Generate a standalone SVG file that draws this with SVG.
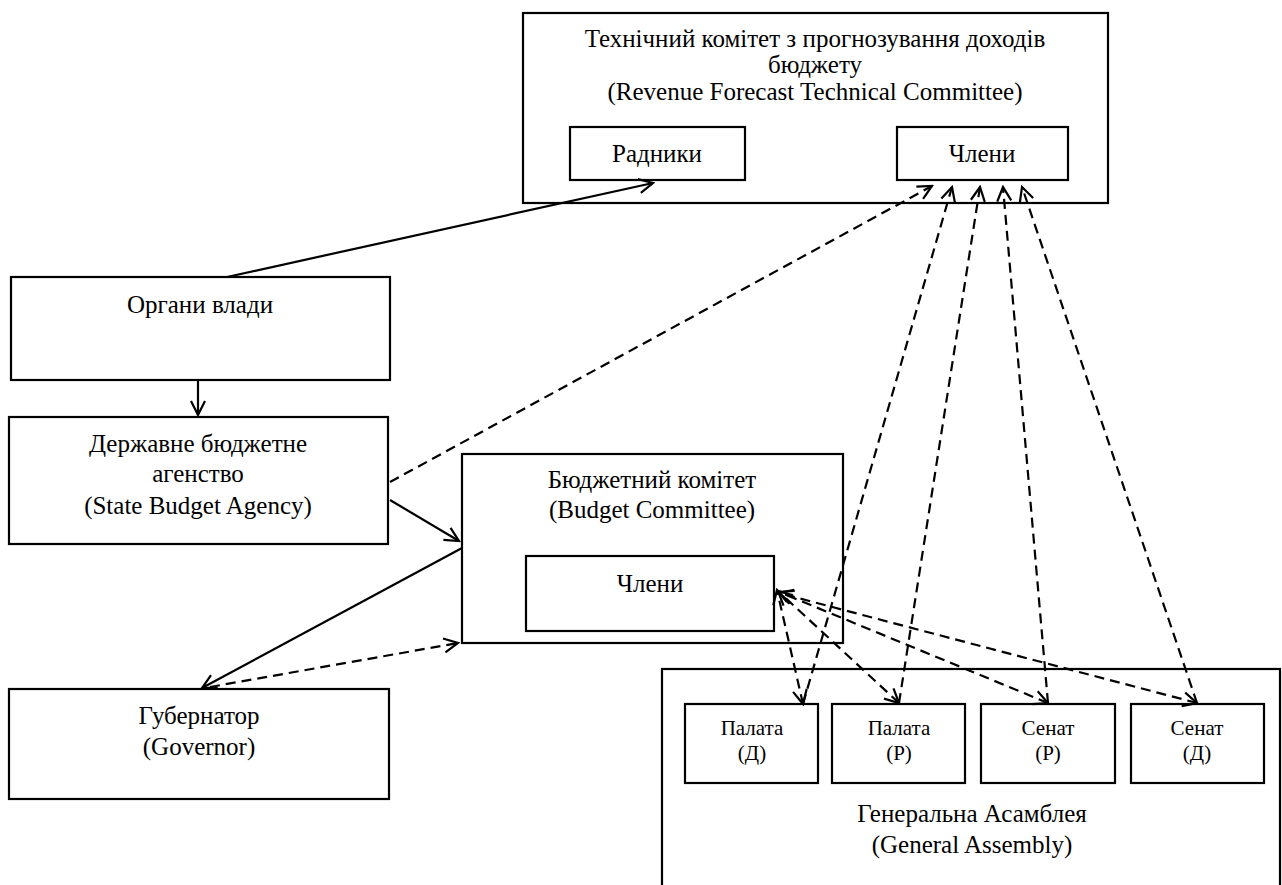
<svg xmlns="http://www.w3.org/2000/svg" width="1282" height="885" viewBox="0 0 1282 885">
<style>
  .box { fill: #fff; stroke: #000; stroke-width: 2.2; }
  .t { font-family: "Liberation Serif", "Times New Roman", serif; font-size: 25px; fill: #000; text-anchor: middle; }
  .ts { font-family: "Liberation Serif", "Times New Roman", serif; font-size: 21px; fill: #000; text-anchor: middle; }
  .ln { fill: none; stroke: #000; stroke-width: 2.2; }
  .dash { fill: none; stroke: #000; stroke-width: 2.2; stroke-dasharray: 10 6; }
</style>
<defs>
  <marker id="arr" viewBox="0 0 18 18" refX="16" refY="9" markerWidth="18" markerHeight="18" markerUnits="userSpaceOnUse" orient="auto-start-reverse">
    <path d="M2,2 L16,9 L2,16" fill="none" stroke="#000" stroke-width="2.2"/>
  </marker>
</defs>

<g id="rftc">
  <rect class="box" x="523" y="13" width="585" height="190"/>
  <text class="t" x="815" y="47">Технічний комітет з прогнозування доходів</text>
  <text class="t" x="815" y="73">бюджету</text>
  <text class="t" x="815" y="100">(Revenue Forecast Technical Committee)</text>
</g>
<g id="radnyky">
  <rect class="box" x="570" y="127" width="175" height="53"/>
  <text class="t" x="657" y="162">Радники</text>
</g>
<g id="chleny-top">
  <rect class="box" x="897" y="127" width="171" height="53"/>
  <text class="t" x="982" y="162">Члени</text>
</g>
<g id="organy">
  <rect class="box" x="11" y="277" width="379" height="103"/>
  <text class="t" x="200" y="313">Органи влади</text>
</g>
<g id="sba">
  <rect class="box" x="9" y="417" width="379" height="127"/>
  <text class="t" x="198" y="452">Державне бюджетне</text>
  <text class="t" x="198" y="482">агенство</text>
  <text class="t" x="198" y="514">(State Budget Agency)</text>
</g>
<g id="budget-committee">
  <rect class="box" x="462" y="454" width="381" height="189"/>
  <text class="t" x="652" y="488">Бюджетний комітет</text>
  <text class="t" x="652" y="518">(Budget Committee)</text>
</g>
<g id="chleny-bc">
  <rect class="box" x="526" y="556" width="248" height="75"/>
  <text class="t" x="650" y="592">Члени</text>
</g>
<g id="governor">
  <rect class="box" x="9" y="689" width="380" height="110"/>
  <text class="t" x="199" y="724">Губернатор</text>
  <text class="t" x="199" y="755">(Governor)</text>
</g>
<g id="general-assembly">
  <rect class="box" x="662" y="669" width="618" height="240"/>
  <text class="t" x="972" y="822">Генеральна Асамблея</text>
  <text class="t" x="972" y="853">(General Assembly)</text>
</g>
<g id="house-d">
  <rect class="box" x="685" y="704" width="133" height="79"/>
  <text class="ts" x="752" y="735">Палата</text>
  <text class="ts" x="752" y="760">(Д)</text>
</g>
<g id="house-r">
  <rect class="box" x="832" y="704" width="133" height="79"/>
  <text class="ts" x="899" y="735">Палата</text>
  <text class="ts" x="899" y="760">(Р)</text>
</g>
<g id="senate-r">
  <rect class="box" x="981" y="704" width="134" height="79"/>
  <text class="ts" x="1048" y="735">Сенат</text>
  <text class="ts" x="1048" y="760">(Р)</text>
</g>
<g id="senate-d">
  <rect class="box" x="1131" y="704" width="133" height="79"/>
  <text class="ts" x="1197" y="735">Сенат</text>
  <text class="ts" x="1197" y="760">(Д)</text>
</g>

<g id="connectors">
  <path class="ln" d="M227,277 L653,183" marker-end="url(#arr)"/>
  <path class="ln" d="M198,380 L198,415" marker-end="url(#arr)"/>
  <path class="dash" d="M390,482 L932,186" marker-end="url(#arr)"/>
  <path class="ln" d="M390,500 L459,541" marker-end="url(#arr)"/>
  <path class="ln" d="M462,548 L202,688" marker-end="url(#arr)"/>
  <path class="dash" d="M210,687 L458,643" marker-end="url(#arr)"/>

  <path class="dash" d="M803,704 L952,187" marker-end="url(#arr)"/>
  <path class="dash" d="M899,703 L980,187" marker-end="url(#arr)"/>
  <path class="dash" d="M1048,703 L1003,187" marker-end="url(#arr)"/>
  <path class="dash" d="M1197,703 L1022,187" marker-end="url(#arr)"/>

  <path class="dash" d="M803,704 L777,590" marker-start="url(#arr)" marker-end="url(#arr)"/>
  <path class="dash" d="M899,703 L778,591" marker-start="url(#arr)" marker-end="url(#arr)"/>
  <path class="dash" d="M1048,703 L779,592" marker-start="url(#arr)" marker-end="url(#arr)"/>
  <path class="dash" d="M1197,703 L779,593" marker-start="url(#arr)" marker-end="url(#arr)"/>
</g>
</svg>
